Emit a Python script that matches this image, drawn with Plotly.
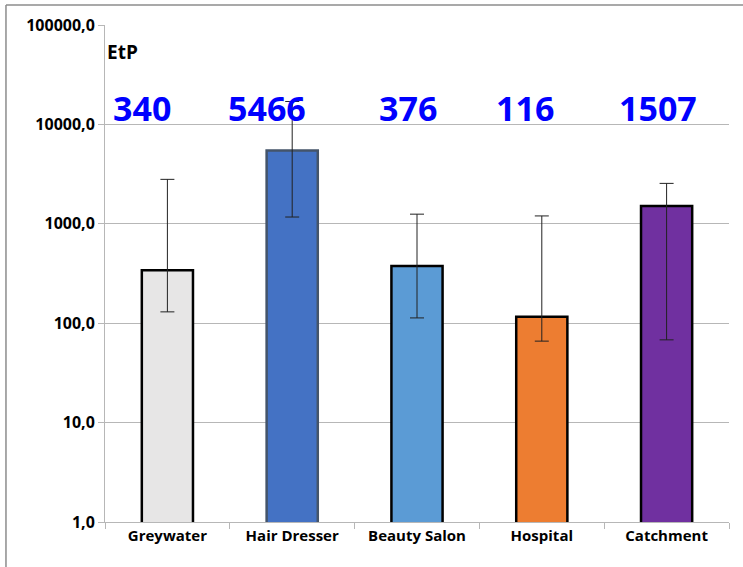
import plotly.graph_objects as go

categories = ["Greywater", "Hair Dresser", "Beauty Salon", "Hospital", "Catchment"]
values = [340, 5466, 376, 116, 1507]
err_high = [2800, 17000, 1250, 1200, 2550]
err_low = [130, 1170, 113, 66, 68]
value_labels = ["340", "5466", "376", "116", "1507"]
label_shift_px = [-25, -25, -9, -17, -9]
tick_vals = [1, 10, 100, 1000, 10000, 100000]
tick_text = ["1,0", "10,0", "100,0", "1000,0", "10000,0", "100000,0"]
fill_colors = ["#E7E6E6", "#4472C4", "#5B9BD5", "#ED7D31", "#7030A0"]
line_colors = ["#000000", "#44546A", "#000000", "#000000", "#000000"]

FONT = "Open Sans"

fig = go.Figure()
fig.add_trace(go.Bar(
    x=categories,
    y=values,
    marker=dict(color=fill_colors, line=dict(color=line_colors, width=2.5)),
    error_y=dict(
        type="data",
        symmetric=False,
        array=[h - v for h, v in zip(err_high, values)],
        arrayminus=[v - l for v, l in zip(values, err_low)],
        color="#222222",
        thickness=1,
        width=7,
    ),
    hoverinfo="x+y",
))

for c, t, s in zip(categories, value_labels, label_shift_px):
    fig.add_annotation(
        x=c, y=0.833, xref="x", yref="paper", text=t, showarrow=False,
        font=dict(family=FONT, size=34, color="#0000FF", weight="bold"),
        xanchor="center", yanchor="middle", xshift=s,
    )

fig.add_annotation(
    x=0.0, y=0.945, xref="paper", yref="paper", text="EtP", showarrow=False,
    font=dict(family=FONT, size=19, color="#000000", weight="bold"),
    xanchor="left", yanchor="middle",
)

# outer chart border (top and left visible)
fig.add_shape(type="line", xref="paper", yref="paper",
              x0=-0.1587, x1=1.03, y0=1.0402, y1=1.0402,
              line=dict(color="#8C8C8C", width=1.5))
fig.add_shape(type="line", xref="paper", yref="paper",
              x0=-0.1587, x1=-0.1587, y0=1.0402, y1=-0.1,
              line=dict(color="#8C8C8C", width=1.5))

fig.update_layout(
    width=743, height=567,
    margin=dict(l=105, r=14, t=25, b=45),
    paper_bgcolor="white",
    plot_bgcolor="white",
    bargap=0.59,
    showlegend=False,
    font=dict(family=FONT, color="#000000"),
)
fig.update_yaxes(
    type="log", range=[0, 5],
    tickvals=tick_vals, ticktext=tick_text,
    tickfont=dict(family=FONT, size=16, color="#000000", weight="bold"),
    showgrid=True, gridcolor="#B7B7B7", gridwidth=1,
    showline=True, linecolor="#B7B7B7", linewidth=1,
    ticks="outside", ticklen=6, tickcolor="#B7B7B7",
    zeroline=False, mirror=False,
)
fig.update_xaxes(
    tickfont=dict(family=FONT, size=15, color="#000000", weight="bold"),
    showline=True, linecolor="#B7B7B7", linewidth=1,
    ticks="outside", ticklen=6, tickcolor="#B7B7B7",
    tickson="boundaries", showgrid=False,
)

fig.write_html("out.html", config={"displayModeBar": False},
               post_script="document.body.style.margin='0';")
